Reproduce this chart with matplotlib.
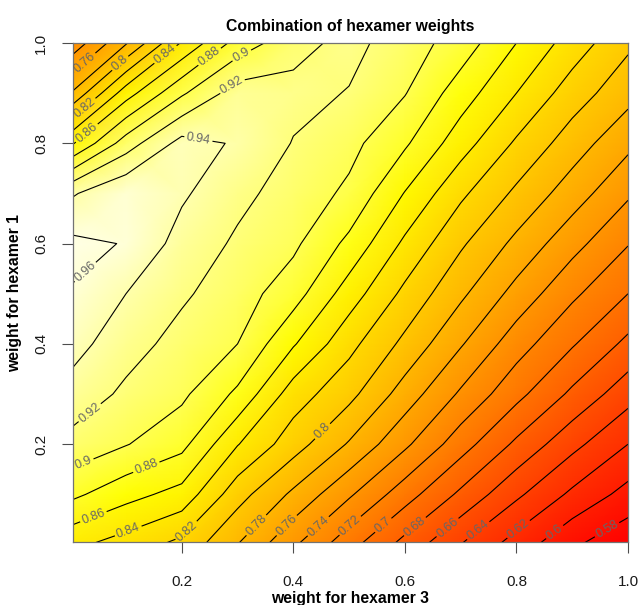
import numpy as np
import matplotlib
matplotlib.use("Agg")
import matplotlib.pyplot as plt
from matplotlib.colors import LinearSegmentedColormap, Normalize

# grid of weights (x = hexamer 3, y = hexamer 1)
w3 = [0.0, 0.1, 0.2, 0.3, 0.4, 0.5, 0.6, 0.7, 0.8, 0.9, 1.0]
w1 = [0.0, 0.1, 0.2, 0.3, 0.4, 0.5, 0.6, 0.7, 0.8, 0.9, 1.0]

# score, one row per w1 value (bottom to top)
score = [
    [0.845, 0.831, 0.814, 0.780, 0.743, 0.707, 0.673, 0.640, 0.611, 0.583, 0.565],
    [0.885, 0.867, 0.853, 0.808, 0.776, 0.743, 0.709, 0.676, 0.644, 0.616, 0.593],
    [0.914, 0.901, 0.886, 0.841, 0.809, 0.778, 0.744, 0.709, 0.676, 0.646, 0.620],
    [0.933, 0.916, 0.904, 0.876, 0.830, 0.806, 0.771, 0.737, 0.706, 0.676, 0.648],
    [0.948, 0.928, 0.913, 0.900, 0.862, 0.826, 0.795, 0.762, 0.729, 0.702, 0.675],
    [0.959, 0.940, 0.923, 0.909, 0.889, 0.850, 0.815, 0.784, 0.753, 0.724, 0.700],
    [0.965, 0.959, 0.932, 0.917, 0.904, 0.875, 0.836, 0.803, 0.775, 0.747, 0.721],
    [0.937, 0.958, 0.943, 0.925, 0.912, 0.896, 0.859, 0.824, 0.796, 0.770, 0.743],
    [0.856, 0.910, 0.947, 0.938, 0.919, 0.906, 0.883, 0.849, 0.817, 0.790, 0.765],
    [0.780, 0.851, 0.897, 0.930, 0.926, 0.919, 0.901, 0.870, 0.840, 0.810, 0.787],
    [0.725, 0.778, 0.842, 0.888, 0.913, 0.926, 0.910, 0.891, 0.860, 0.831, 0.804],
]

levels = [0.56, 0.58, 0.60, 0.62, 0.64, 0.66, 0.68, 0.70, 0.72, 0.74, 0.76,
          0.78, 0.80, 0.82, 0.84, 0.86, 0.88, 0.90, 0.92, 0.94, 0.96]

# where R put the contour labels
label_spots = [
    (0.03, 0.956), (0.094, 0.954), (0.173, 0.974), (0.245, 0.98), (0.31, 0.97),
    (0.30, 0.90), (0.23, 0.81), (0.03, 0.866), (0.03, 0.82), (0.03, 0.54),
    (0.04, 0.256), (0.03, 0.146), (0.14, 0.144), (0.04, 0.06), (0.103, 0.03),
    (0.20, 0.036), (0.454, 0.224), (0.336, 0.036), (0.39, 0.036), (0.445, 0.036),
    (0.50, 0.04), (0.56, 0.04), (0.615, 0.04), (0.675, 0.036), (0.73, 0.03),
    (0.80, 0.036), (0.865, 0.03), (0.955, 0.044),
]

# R heat.colors: red -> yellow, then yellow fading to white
heat = LinearSegmentedColormap.from_list(
    "heat", [(0.0, (1, 0, 0)), (0.75, (1, 1, 0)), (1.0, (1, 1, 0.9))])

X, Y = np.meshgrid(w3, w1)
Z = np.array(score)

plt.rcParams["font.family"] = ["Liberation Sans", "DejaVu Sans"]

fig = plt.figure(figsize=(6.38, 6.05), dpi=100)
ax = fig.add_axes([73 / 638, 63 / 605, 555 / 638, 499 / 605])

ax.pcolormesh(X, Y, Z, shading="gouraud", cmap=heat,
              norm=Normalize(vmin=0.565, vmax=0.966))
cs = ax.contour(X, Y, Z, levels=levels, colors="black", linewidths=0.8)
ax.clabel(cs, fmt="%g", fontsize=9, colors="0.4", inline=True,
          inline_spacing=2, manual=label_spots)

ax.set_xlim(0.005, 1.0)
ax.set_ylim(0.005, 1.0)
ax.set_xticks([0.2, 0.4, 0.6, 0.8, 1.0])
ax.set_xticklabels(["0.2", "0.4", "0.6", "0.8", "1.0"])
ax.set_yticks([0.2, 0.4, 0.6, 0.8, 1.0])
ax.set_yticklabels(["0.2", "0.4", "0.6", "0.8", "1.0"], rotation=90, va="center")
ax.tick_params(axis="x", direction="out", length=8, width=0.8, pad=16,
               labelsize=11, color="0.3", labelcolor="0.1")
ax.tick_params(axis="y", direction="out", length=8, width=0.8, pad=10,
               labelsize=11, color="0.3", labelcolor="0.1")
for side in ax.spines.values():
    side.set_color("0.45")
    side.set_linewidth(0.9)

cx = (73 + 628) / 2 / 638
fig.text(cx, 1 - 27 / 605, "Combination of hexamer weights", ha="center",
         va="center", fontsize=11.3, fontweight="bold")
fig.text(cx, 1 - 599 / 605, "weight for hexamer 3", ha="center", va="center",
         fontsize=11.3, fontweight="bold")
fig.text(15 / 638, 1 - 293 / 605, "weight for hexamer 1", ha="center",
         va="center", rotation=90, fontsize=11.3, fontweight="bold")

fig.savefig("out.png", dpi=100)
